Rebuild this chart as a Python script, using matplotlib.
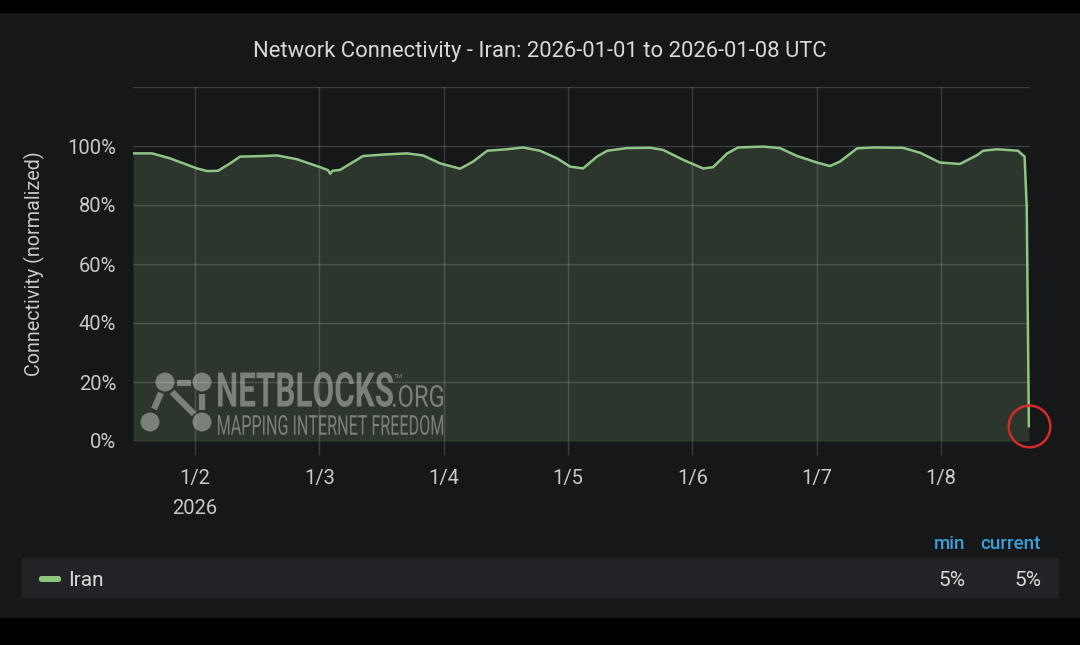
import numpy as np
import pandas as pd
import matplotlib as mpl
mpl.use('agg')
import matplotlib.pyplot as plt
from matplotlib.patches import Rectangle, Circle, PathPatch, FancyBboxPatch
from matplotlib.textpath import TextPath
from matplotlib.font_manager import FontProperties
from matplotlib.transforms import Affine2D

plt.rcParams['font.family'] = ['Roboto', 'DejaVu Sans']

# values (UTC timestamps, % normalized connectivity)
times = [
    "2026-01-01 12:00", "2026-01-01 15:40", "2026-01-01 19:10",
    "2026-01-02 00:20", "2026-01-02 02:20", "2026-01-02 04:25", "2026-01-02 06:45",
    "2026-01-02 08:40", "2026-01-02 13:10", "2026-01-02 15:50", "2026-01-02 19:40",
    "2026-01-03 00:10", "2026-01-03 01:40", "2026-01-03 02:05", "2026-01-03 02:30",
    "2026-01-03 04:00", "2026-01-03 08:25", "2026-01-03 12:20", "2026-01-03 16:55",
    "2026-01-03 20:00", "2026-01-03 23:20",
    "2026-01-04 03:10", "2026-01-04 05:40", "2026-01-04 08:25", "2026-01-04 12:15",
    "2026-01-04 15:20", "2026-01-04 18:35", "2026-01-04 21:55",
    "2026-01-05 00:25", "2026-01-05 02:55", "2026-01-05 05:35", "2026-01-05 07:35",
    "2026-01-05 11:25", "2026-01-05 15:50", "2026-01-05 18:20", "2026-01-05 22:15",
    "2026-01-06 02:05", "2026-01-06 04:00", "2026-01-06 06:45", "2026-01-06 08:50",
    "2026-01-06 13:40", "2026-01-06 16:55", "2026-01-06 20:15",
    "2026-01-07 00:05", "2026-01-07 02:35", "2026-01-07 04:30", "2026-01-07 07:50",
    "2026-01-07 10:55", "2026-01-07 16:40", "2026-01-07 20:00", "2026-01-07 23:50",
    "2026-01-08 03:40", "2026-01-08 07:00", "2026-01-08 08:10", "2026-01-08 10:50",
    "2026-01-08 14:55", "2026-01-08 15:50", "2026-01-08 16:10", "2026-01-08 16:35",
    "2026-01-08 17:00",
]
connectivity = [
    97.5, 97.5, 95.8,
    92.4, 91.5, 91.6, 94.1,
    96.4, 96.6, 96.8, 95.5,
    92.8, 91.8, 90.6, 91.6,
    91.9, 96.6, 97.1, 97.5,
    96.8, 94.1,
    92.3, 94.7, 98.4, 98.9,
    99.5, 98.4, 95.8,
    93.0, 92.4, 96.4, 98.4,
    99.3, 99.4, 98.7, 95.3,
    92.4, 92.8, 97.5, 99.5,
    99.8, 99.3, 96.6,
    94.4, 93.2, 94.7, 99.2,
    99.5, 99.4, 97.7, 94.4,
    93.9, 96.9, 98.4, 98.9,
    98.4, 96.9, 96.5, 79.4,
    5.0,
]
tick_days = ["2026-01-02", "2026-01-03", "2026-01-04", "2026-01-05",
             "2026-01-06", "2026-01-07", "2026-01-08"]
tick_labels = ["1/2\n2026", "1/3", "1/4", "1/5", "1/6", "1/7", "1/8"]
y_ticks = [0, 20, 40, 60, 80, 100, 120]
y_labels = ["0%", "20%", "40%", "60%", "80%", "100%", ""]
series_name = "Iran"
stat_names = ["min", "current"]
stat_values = ["5%", "5%"]
title = "Network Connectivity - Iran: 2026-01-01 to 2026-01-08 UTC"

BG = '#161719'
LINE = '#8fc685'
FILL = '#2c362c'
TXT = '#c8c9ca'
GRID = '#ffffff'
GA = 0.16
W, H = 1080, 645

x = pd.to_datetime(times)
y = np.array(connectivity)

fig = plt.figure(figsize=(W / 100, H / 100), dpi=100, facecolor=BG)
ax = fig.add_axes([133 / W, 1 - 441 / H, (1030 - 133) / W, (441 - 87) / H])
ax.set_facecolor('none')
ax.fill_between(x, 0, y, color=FILL, lw=0, zorder=1)
ax.plot(x, y, color=LINE, lw=1.8, zorder=3)
# red marker circle around the latest point
ax.plot(x[-1], y[-1], 'o', ms=30, mfc='none', mec='#d42a2a', mew=1.8,
        clip_on=False, zorder=5)

ax.set_xlim(pd.Timestamp("2026-01-01 12:00"), pd.Timestamp("2026-01-08 17:13"))
ax.set_ylim(0, 120)
ax.set_yticks(y_ticks)
ax.set_yticklabels(y_labels)
ax.set_xticks(pd.to_datetime(tick_days))
ax.set_xticklabels(tick_labels)
for lbl in ax.get_xticklabels():
    lbl.set_linespacing(1.75)
ax.set_axisbelow('line')
ax.grid(True, color=GRID, alpha=GA, lw=1)
for s in ax.spines.values():
    s.set_visible(False)
ax.tick_params(axis='y', length=0, pad=12, labelsize=14.5, labelcolor=TXT)
ax.tick_params(axis='x', length=10, width=1, color='#3b3d3f', pad=10,
               labelsize=14.5, labelcolor=TXT)
ax.set_ylabel("Connectivity (normalized)", color=TXT, fontsize=14.2, labelpad=16)

# overlay in pixel coordinates for the panel chrome
ov = fig.add_axes([0, 0, 1, 1], zorder=10)
ov.set_xlim(0, W)
ov.set_ylim(H, 0)
ov.axis('off')
ov.patch.set_alpha(0)

ov.add_patch(Rectangle((0, 0), W, 12, color='black'))
ov.add_patch(Rectangle((0, 618), W, H - 618, color='black'))
ov.text(540, 52, title, color='#d8d9da', fontsize=15.8, ha='center', va='center')

# watermark
WM = '#c8ccc5'
WA = 0.5


def squeeze_text(s, x0, x1, ytop, ybot, weight):
    tp = TextPath((0, 0), s, size=10, prop=FontProperties(family='Roboto', weight=weight))
    bb = tp.get_extents()
    tr = (Affine2D().translate(-bb.x0, -bb.y0)
          .scale((x1 - x0) / bb.width, -(ybot - ytop) / bb.height)
          .translate(x0, ybot))
    ov.add_patch(PathPatch(tr.transform_path(tp), fc=WM, ec='none', alpha=WA))


nodes = [(165, 382), (202, 382), (150, 422), (202, 422)]
for cx, cy in nodes:
    ov.add_patch(Circle((cx, cy), 9.5, fc=WM, ec='none', alpha=WA))
for (xa, ya), (xb, yb) in [((177, 383), (191, 383)), ((161, 393), (154, 409)),
                           ((172, 392), (194, 414)), ((202, 394), (202, 410))]:
    ov.plot([xa, xb], [ya, yb], color=WM, alpha=WA, lw=4.5, solid_capstyle='butt')
squeeze_text("NETBLOCKS", 218, 393, 372, 407, 'bold')
squeeze_text(".ORG", 393, 443, 385, 407, 'normal')
squeeze_text("MAPPING INTERNET FREEDOM", 218, 443, 415, 435, 'normal')
ov.text(398, 376, "TM", color=WM, alpha=WA, fontsize=4.5, ha='center', va='center')

# legend table
ov.add_patch(Rectangle((22, 558), 1036, 39, color='#222326'))
ov.add_patch(FancyBboxPatch((39, 576), 22, 6, boxstyle='round,pad=0,rounding_size=2.5',
                            fc='#8cc57e', ec='none'))
ov.text(68, 581, series_name, color='#d8d9da', fontsize=15, va='center', ha='left')
for name, val, xr in zip(stat_names, stat_values, [965, 1041]):
    ov.text(xr, 544, name, color='#3ba0d8', fontsize=13.5, fontweight='medium',
            va='center', ha='right')
    ov.text(xr, 581, val, color='#d8d9da', fontsize=15, va='center', ha='right')

fig.savefig("out.png", dpi=100, facecolor=BG)
